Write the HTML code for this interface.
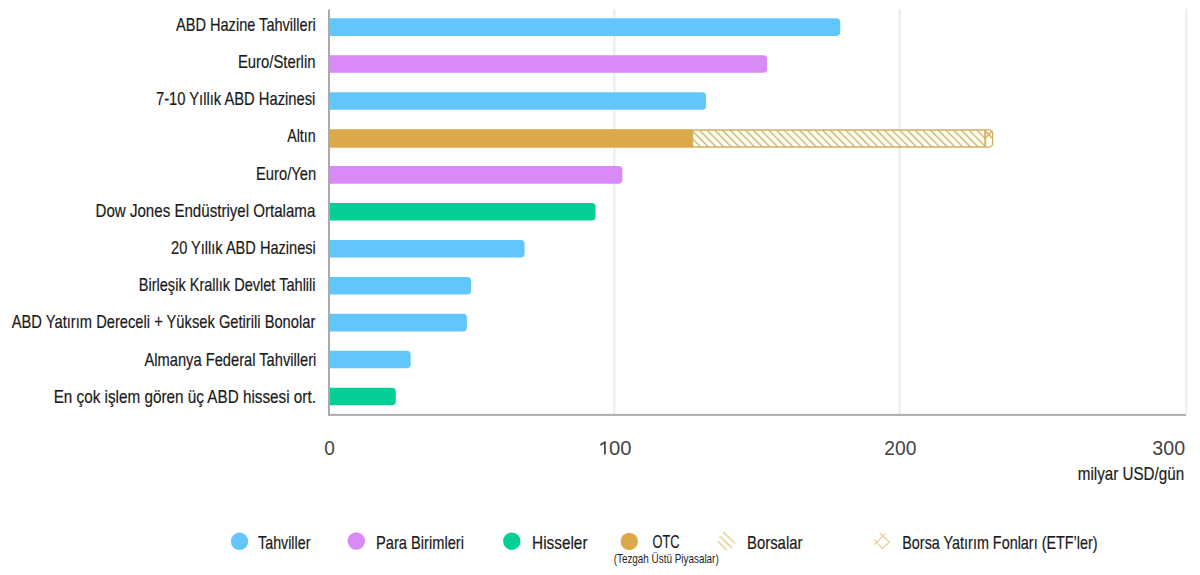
<!DOCTYPE html>
<html><head><meta charset="utf-8">
<style>
html,body{margin:0;padding:0;background:#fff;width:1200px;height:575px;overflow:hidden}
svg{display:block;font-family:"Liberation Sans",sans-serif}
</style></head><body>
<svg width="1200" height="575" viewBox="0 0 1200 575">
<defs>
<pattern id="hatch" patternUnits="userSpaceOnUse" width="5.45" height="5.45" patternTransform="translate(-2.2,0) rotate(-45)">
<rect width="5.45" height="5.45" fill="#fffcf0"/>
<rect x="0" y="0" width="1.35" height="5.45" fill="#cdb270"/>
</pattern>
</defs>
<rect x="613.4" y="9" width="2" height="405" fill="#ebebeb"/>
<rect x="898.6" y="9" width="2" height="405" fill="#ebebeb"/>
<rect x="1185.4" y="9" width="2" height="405" fill="#ededed"/>
<path d="M329 18.30H836.30a4 4 0 0 1 4 4V31.90a4 4 0 0 1 -4 4H329Z" fill="#62c6fc"/>
<path d="M329 55.24H763.10a4 4 0 0 1 4 4V68.84a4 4 0 0 1 -4 4H329Z" fill="#d98af7"/>
<path d="M329 92.18H702.10a4 4 0 0 1 4 4V105.78a4 4 0 0 1 -4 4H329Z" fill="#62c6fc"/>
<rect x="329" y="129.2" width="363.5" height="18.5" fill="#dba84a"/>
<path d="M692.5 129.9H989a3.5 3.5 0 0 1 3.5 3.5V143.6a3.5 3.5 0 0 1-3.5 3.5H692.5Z" fill="url(#hatch)" stroke="#d0b064" stroke-width="1.5"/>
<path d="M985 130.6H989a3 3 0 0 1 3 3V143.4a3 3 0 0 1-3 3H985Z" fill="#fffcf0"/>
<g stroke="#d6ae55" stroke-width="1.3" fill="none"><line x1="985.2" y1="130" x2="985.2" y2="147.2" stroke-width="1.8"/><line x1="985.5" y1="131" x2="992" y2="138"/><line x1="992" y1="131" x2="985.5" y2="138"/></g>
<path d="M329 166.06H618.40a4 4 0 0 1 4 4V179.66a4 4 0 0 1 -4 4H329Z" fill="#d98af7"/>
<path d="M329 203.00H591.60a4 4 0 0 1 4 4V216.60a4 4 0 0 1 -4 4H329Z" fill="#06cf95"/>
<path d="M329 239.94H520.60a4 4 0 0 1 4 4V253.54a4 4 0 0 1 -4 4H329Z" fill="#62c6fc"/>
<path d="M329 276.88H467.10a4 4 0 0 1 4 4V290.48a4 4 0 0 1 -4 4H329Z" fill="#62c6fc"/>
<path d="M329 313.82H462.90a4 4 0 0 1 4 4V327.42a4 4 0 0 1 -4 4H329Z" fill="#62c6fc"/>
<path d="M329 350.76H406.70a4 4 0 0 1 4 4V364.36a4 4 0 0 1 -4 4H329Z" fill="#62c6fc"/>
<path d="M329 387.70H391.80a4 4 0 0 1 4 4V401.30a4 4 0 0 1 -4 4H329Z" fill="#06cf95"/>
<rect x="328" y="9.5" width="2" height="406.4" fill="#aaaaaa"/>
<rect x="328" y="413.9" width="858" height="2" fill="#acacac"/>
<circle cx="239.5" cy="541.3" r="8.7" fill="#62c6fc"/>
<circle cx="356.3" cy="541" r="8.7" fill="#d98af7"/>
<circle cx="511.8" cy="541.2" r="8.7" fill="#06cf95"/>
<circle cx="629.3" cy="541.4" r="8.7" fill="#dba84a"/>
<g stroke="#e6dba8" stroke-width="1.8" stroke-linecap="round">
<line x1="723.5" y1="532.5" x2="734.8" y2="542.9"/>
<line x1="719.9" y1="536.4" x2="731.6" y2="547.5"/>
<line x1="718.3" y1="541.6" x2="726.2" y2="549.7"/>
</g>
<g stroke="#e4cc90" stroke-width="1.2" fill="none">
<polyline points="879.7,533 889.3,542.2 882.2,548.4 873.8,539.3"/>
<line x1="885" y1="533.8" x2="874.3" y2="544.7"/>
</g>
<path d="M604.9 441.3V454.6M605.2 441.9L600.3 444.9" stroke="#444" stroke-width="1.75" fill="none"/>
<text id="l1" x="176.00" y="30.7" textLength="139.77" lengthAdjust="spacingAndGlyphs" style="font-size:19px;fill:#1a1a1a;stroke:#1a1a1a;stroke-width:0.2px">ABD Hazine Tahvilleri</text>
<text id="l2" x="237.96" y="67.9" textLength="77.52" lengthAdjust="spacingAndGlyphs" style="font-size:19px;fill:#1a1a1a;stroke:#1a1a1a;stroke-width:0.2px">Euro/Sterlin</text>
<text id="l3" x="155.97" y="105.1" textLength="159.31" lengthAdjust="spacingAndGlyphs" style="font-size:19px;fill:#1a1a1a;stroke:#1a1a1a;stroke-width:0.2px">7-10 Yıllık ABD Hazinesi</text>
<text id="l4" x="287.20" y="142.3" textLength="28.52" lengthAdjust="spacingAndGlyphs" style="font-size:19px;fill:#1a1a1a;stroke:#1a1a1a;stroke-width:0.2px">Altın</text>
<text id="l5" x="255.96" y="179.5" textLength="60.19" lengthAdjust="spacingAndGlyphs" style="font-size:19px;fill:#1a1a1a;stroke:#1a1a1a;stroke-width:0.2px">Euro/Yen</text>
<text id="l6" x="95.53" y="216.7" textLength="219.83" lengthAdjust="spacingAndGlyphs" style="font-size:19px;fill:#1a1a1a;stroke:#1a1a1a;stroke-width:0.2px">Dow Jones Endüstriyel Ortalama</text>
<text id="l7" x="171.07" y="253.9" textLength="144.76" lengthAdjust="spacingAndGlyphs" style="font-size:19px;fill:#1a1a1a;stroke:#1a1a1a;stroke-width:0.2px">20 Yıllık ABD Hazinesi</text>
<text id="l8" x="138.78" y="291.1" textLength="176.80" lengthAdjust="spacingAndGlyphs" style="font-size:19px;fill:#1a1a1a;stroke:#1a1a1a;stroke-width:0.2px">Birleşik Krallık Devlet Tahlili</text>
<text id="l9" x="11.70" y="328.3" textLength="303.63" lengthAdjust="spacingAndGlyphs" style="font-size:19px;fill:#1a1a1a;stroke:#1a1a1a;stroke-width:0.2px">ABD Yatırım Dereceli + Yüksek Getirili Bonolar</text>
<text id="l10" x="144.50" y="365.5" textLength="171.88" lengthAdjust="spacingAndGlyphs" style="font-size:19px;fill:#1a1a1a;stroke:#1a1a1a;stroke-width:0.2px">Almanya Federal Tahvilleri</text>
<text id="l11" x="53.63" y="402.7" textLength="262.26" lengthAdjust="spacingAndGlyphs" style="font-size:19px;fill:#1a1a1a;stroke:#1a1a1a;stroke-width:0.2px">En çok işlem gören üç ABD hissesi ort.</text>
<text id="t0" x="324.30" y="454.5" textLength="10.63" lengthAdjust="spacingAndGlyphs" style="font-size:19.5px;fill:#444;stroke:#444;stroke-width:0px">0</text>
<text id="t1" x="609.09" y="454.5" textLength="22.53" lengthAdjust="spacingAndGlyphs" style="font-size:19.5px;fill:#444;stroke:#444;stroke-width:0px">00</text>
<text id="t2" x="884.28" y="454.5" textLength="32.16" lengthAdjust="spacingAndGlyphs" style="font-size:19.5px;fill:#444;stroke:#444;stroke-width:0px">200</text>
<text id="t3" x="1152.36" y="454.5" textLength="32.81" lengthAdjust="spacingAndGlyphs" style="font-size:19.5px;fill:#444;stroke:#444;stroke-width:0px">300</text>
<text id="mil" x="1077.80" y="480.1" textLength="106.32" lengthAdjust="spacingAndGlyphs" style="font-size:19px;fill:#1a1a1a;stroke:#1a1a1a;stroke-width:0.2px">milyar USD/gün</text>
<text id="g1" x="258.09" y="549.2" textLength="52.32" lengthAdjust="spacingAndGlyphs" style="font-size:19px;fill:#1a1a1a;stroke:#1a1a1a;stroke-width:0.2px">Tahviller</text>
<text id="g2" x="375.97" y="549" textLength="87.99" lengthAdjust="spacingAndGlyphs" style="font-size:19px;fill:#1a1a1a;stroke:#1a1a1a;stroke-width:0.2px">Para Birimleri</text>
<text id="g3" x="532.11" y="549" textLength="55.39" lengthAdjust="spacingAndGlyphs" style="font-size:19px;fill:#1a1a1a;stroke:#1a1a1a;stroke-width:0.2px">Hisseler</text>
<text id="g4" x="652.48" y="548.3" textLength="27.05" lengthAdjust="spacingAndGlyphs" style="font-size:19px;fill:#1a1a1a;stroke:#1a1a1a;stroke-width:0.2px">OTC</text>
<text id="g5" x="613.69" y="563.1" textLength="104.99" lengthAdjust="spacingAndGlyphs" style="font-size:12.9px;fill:#222;stroke:#222;stroke-width:0px">(Tezgah Üstü Piyasalar)</text>
<text id="g6" x="747.05" y="549" textLength="55.35" lengthAdjust="spacingAndGlyphs" style="font-size:19px;fill:#1a1a1a;stroke:#1a1a1a;stroke-width:0.2px">Borsalar</text>
<text id="g7" x="902.28" y="549" textLength="195.31" lengthAdjust="spacingAndGlyphs" style="font-size:19px;fill:#1a1a1a;stroke:#1a1a1a;stroke-width:0.2px">Borsa Yatırım Fonları (ETF’ler)</text>
</svg>
</body></html>
